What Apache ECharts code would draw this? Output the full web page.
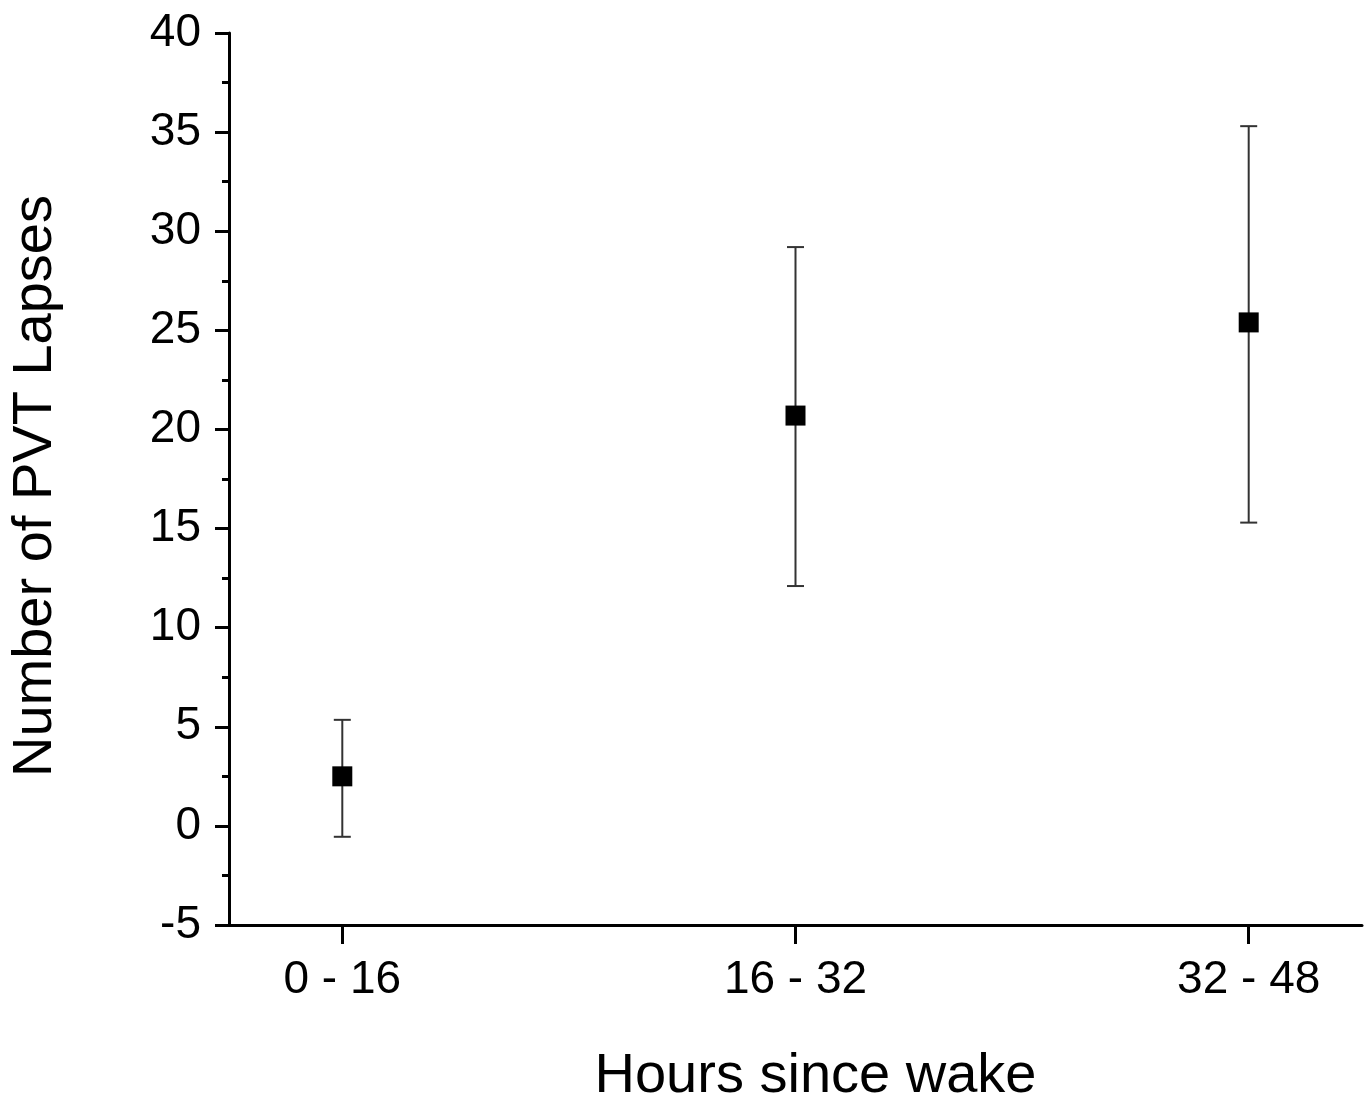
<!DOCTYPE html>
<html>
<head>
<meta charset="utf-8">
<style>
  html, body { margin: 0; padding: 0; background: #fff; }
  #chart { width: 1368px; height: 1102px; }
</style>
<script src="https://cdn.jsdelivr.net/npm/echarts@6/dist/echarts.min.js"></script>
</head>
<body>
<div id="chart"></div>
<script>
// categories on the x axis (drawn at positions 1, 2, 3)
var categories = ['0 - 16', '16 - 32', '32 - 48']
var positions = [1, 2, 3]
// mean number of lapses
var means = [2.5, 20.7, 25.4]
// error bar ends
var lower = [-0.55, 12.1, 15.3]
var upper = [5.35, 29.2, 35.3]
// y tick labels
var yTicks = [-5, 0, 5, 10, 15, 20, 25, 30, 35, 40]

var font = 'Liberation Sans, Arial, sans-serif'
var chart = echarts.init(document.getElementById('chart'))

var pointData = positions.map(function (p, i) { return [p, means[i]] })
var barData = positions.map(function (p, i) { return [p, lower[i], upper[i]] })

chart.setOption({
  animation: false,
  grid: { left: 229, top: 33, right: 6, bottom: 177, containLabel: false, outerBoundsMode: 'none' },
  xAxis: {
    type: 'value',
    min: 0.75,
    max: 3.25,
    name: 'Hours since wake',
    nameLocation: 'middle',
    nameGap: 124,
    nameTextStyle: { fontSize: 56, color: '#000', fontFamily: font, padding: [0, 0, 0, 40] },
    axisLine: { onZero: false, lineStyle: { color: '#000', width: 3 } },
    axisTick: { customValues: positions, length: 19, lineStyle: { color: '#000', width: 3 } },
    axisLabel: {
      customValues: positions,
      margin: 32,
      fontSize: 46,
      color: '#000',
      fontFamily: font,
      formatter: function (v) { return categories[positions.indexOf(v)] }
    },
    splitLine: { show: false }
  },
  yAxis: {
    type: 'value',
    min: -5,
    max: 40,
    interval: 5,
    name: 'Number of PVT Lapses',
    nameLocation: 'middle',
    nameGap: 165,
    nameTextStyle: { fontSize: 56, color: '#000', fontFamily: font, padding: [0, 14, 0, 0] },
    axisLine: { show: true, lineStyle: { color: '#000', width: 3 } },
    axisTick: { length: 14, lineStyle: { color: '#000', width: 3 } },
    minorTick: { show: true, splitNumber: 2, length: 7, lineStyle: { color: '#000', width: 3 } },
    axisLabel: {
      margin: 28,
      fontSize: 46,
      color: '#000',
      fontFamily: font,
      customValues: yTicks
    },
    splitLine: { show: false }
  },
  series: [
    {
      type: 'custom',
      data: barData,
      renderItem: function (params, api) {
        var x = api.value(0)
        var lo = api.coord([x, api.value(1)])
        var hi = api.coord([x, api.value(2)])
        var cap = 8.5
        var style = { stroke: '#333', lineWidth: 2 }
        return {
          type: 'group',
          children: [
            { type: 'line', shape: { x1: lo[0], y1: lo[1], x2: hi[0], y2: hi[1] }, style: style },
            { type: 'line', shape: { x1: lo[0] - cap, y1: lo[1], x2: lo[0] + cap, y2: lo[1] }, style: style },
            { type: 'line', shape: { x1: hi[0] - cap, y1: hi[1], x2: hi[0] + cap, y2: hi[1] }, style: style }
          ]
        }
      },
      z: 1
    },
    {
      type: 'scatter',
      data: pointData,
      symbol: 'rect',
      symbolSize: 20,
      itemStyle: { color: '#000', opacity: 1 },
      z: 2
    }
  ]
})
</script>
</body>
</html>
